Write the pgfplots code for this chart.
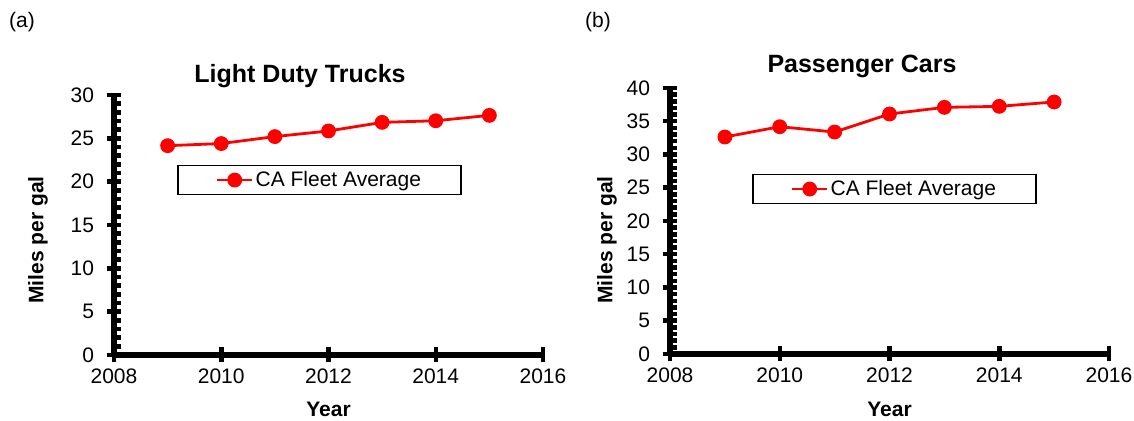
\documentclass[border=0pt]{standalone}
\usepackage{fontspec}
\setmainfont{Liberation Sans}
\usepackage{pgfplots}
\pgfplotsset{compat=1.18}
\pgfplotsset{
  myax/.style={
    scale only axis,
    anchor=south west,
    axis lines*=left,
    axis line style={line width=5.5pt, black},
    xmin=2008, xmax=2016,
    xtick={2008,2010,...,2016},
    minor x tick num=4,
    minor y tick num=4,
    ymin=0,
    tick align=center,
    major tick length=15pt,
    minor tick length=7pt,
    every tick/.style={black, line width=4.5pt},
    minor x tick style={yshift=3.5pt},
    minor y tick style={xshift=3.5pt},
    /pgf/number format/assume math mode=true,
    /pgf/number format/1000 sep={},
    tick label style={font=\fontsize{21}{25}\selectfont},
    xticklabel style={yshift=-3pt},
    yticklabel style={xshift=-9pt},
    legend cell align=left,
    legend style={font=\fontsize{21}{25}\selectfont, draw=black, line width=1.5pt,
      inner xsep=38pt, inner ysep=4pt},
    legend image code/.code={
      \draw[red, line width=2.8pt] (0pt,0pt) -- (35pt,0pt);
      \fill[red] (17.5pt,0pt) circle (6pt);
    },
  },
  myplot/.style={red, line width=2.8pt, mark=*, mark size=6pt, mark options={fill=red, draw=red}},
}
\begin{document}
\begin{tikzpicture}
\path[use as bounding box] (0pt,0pt) rectangle (1134pt,420pt);
\begin{axis}[myax, at={(114pt,65pt)}, width=429pt, height=260pt,
  ymax=30, ytick={0,5,...,30},
  legend style={at={(0.147,0.731)}, anchor=north west}]
\addplot[myplot] coordinates {
(2009,24.15) (2010,24.4) (2011,25.2) (2012,25.85) (2013,26.84) (2014,27.03) (2015,27.65)};
\addlegendentry{CA Fleet Average}
\end{axis}
\begin{axis}[myax, at={(670pt,66pt)}, width=439pt, height=266pt,
  ymax=40, ytick={0,5,...,40},
  legend style={at={(0.187,0.677)}, anchor=north west}]
\addplot[myplot] coordinates {
(2009,32.63) (2010,34.18) (2011,33.38) (2012,36.09) (2013,37.09) (2014,37.24) (2015,37.9)};
\addlegendentry{CA Fleet Average}
\end{axis}
\node[font=\fontsize{25}{30}\selectfont\bfseries, anchor=base] at (300pt,337pt) {Light Duty Trucks};
\node[font=\fontsize{25}{30}\selectfont\bfseries, anchor=base] at (862pt,347pt) {Passenger Cars};
\node[font=\fontsize{21}{25}\selectfont, anchor=base] at (22pt,392pt) {(a)};
\node[font=\fontsize{21}{25}\selectfont, anchor=base] at (598pt,392pt) {(b)};
\node[font=\fontsize{21}{25}\selectfont\bfseries, anchor=base] at (328.5pt,4pt) {Year};
\node[font=\fontsize{21}{25}\selectfont\bfseries, anchor=base] at (889.5pt,4pt) {Year};
\node[font=\fontsize{21}{25}\selectfont\bfseries, rotate=90] at (38pt,180pt) {Miles per gal};
\node[font=\fontsize{21}{25}\selectfont\bfseries, rotate=90] at (607pt,180pt) {Miles per gal};
\end{tikzpicture}
\end{document}
